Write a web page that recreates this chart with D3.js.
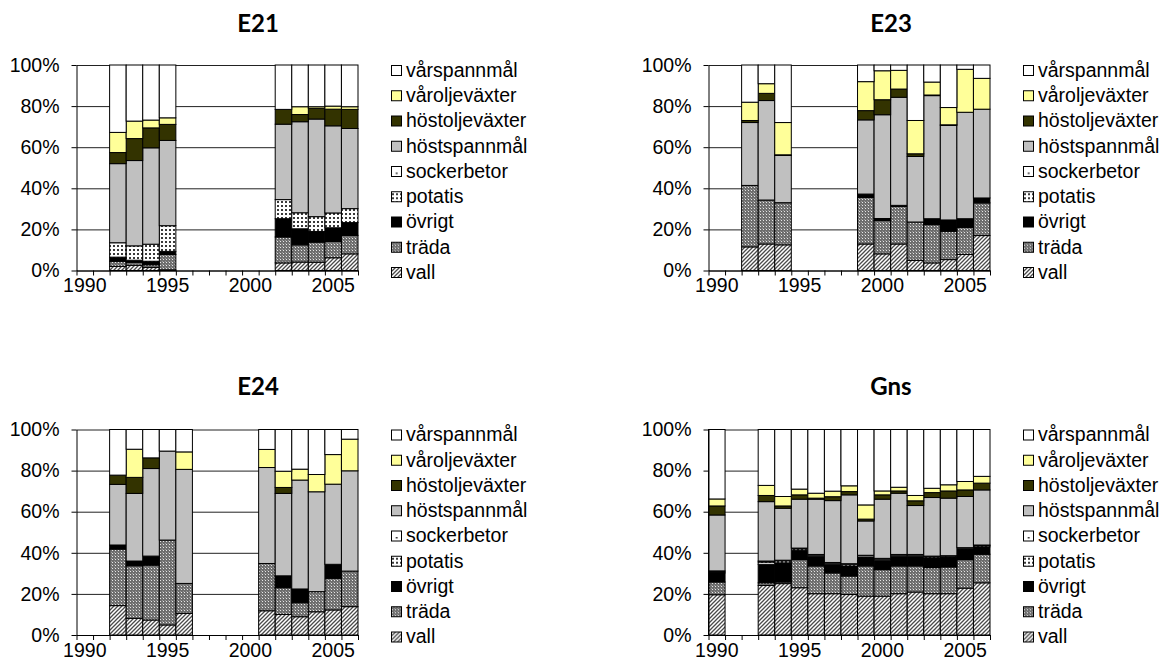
<!DOCTYPE html>
<html>
<head>
<meta charset="utf-8">
<script src="https://cdn.jsdelivr.net/npm/d3@7"></script>
<style>
  body { margin: 0; background: #fff; }
  svg text { font-family: "Liberation Sans", Arial, sans-serif; fill: #000; }
  .title { font-family: Lato, "DejaVu Sans", sans-serif; font-weight: 700; }
</style>
</head>
<body>
<svg width="1175" height="669"></svg>
<script>
// stack order, bottom to top
const crops = ["vall", "träda", "övrigt", "potatis", "sockerbetor", "höstspannmål", "höstoljeväxter", "våroljeväxter", "vårspannmål"];
const allYears = [1990, 1991, 1992, 1993, 1994, 1995, 1996, 1997, 1998, 1999, 2000, 2001, 2002, 2003, 2004, 2005, 2006];
const yearLabels = [1990, 1995, 2000, 2005];
const pctTicks = [0, 20, 40, 60, 80, 100];

// each row: share (%) per crop, same order as crops
const e21Years = [1992, 1993, 1994, 1995, 2002, 2003, 2004, 2005, 2006];
const e21Rows = [
  [2.0, 2.5, 2.0, 7.0, 0, 38.5, 5.4, 9.8, 32.8],
  [2.5, 1.5, 1.0, 7.0, 0, 41.5, 10.7, 8.5, 27.3],
  [1.5, 1.3, 1.7, 8.3, 0, 46.9, 9.7, 3.8, 26.8],
  [0.3, 7.5, 1.5, 12.5, 0, 41.5, 7.8, 3.2, 25.7],
  [3.7, 12.6, 8.9, 9.3, 0, 36.7, 7.2, 0, 21.6],
  [4.1, 8.4, 7.8, 7.8, 0, 44.3, 3.5, 3.8, 20.3],
  [4.0, 9.8, 5.2, 7.2, 0, 47.5, 5.2, 0.8, 20.3],
  [6.2, 7.9, 6.7, 7.2, 0, 42.4, 8.1, 1.5, 20.0],
  [8.1, 9.0, 6.2, 6.8, 0, 39.0, 9.3, 1.3, 20.3]
];

const e23Years = [1992, 1993, 1994, 1999, 2000, 2001, 2002, 2003, 2004, 2005, 2006];
const e23Rows = [
  [11.5, 29.9, 0, 0, 0, 30.6, 1.0, 8.9, 18.1],
  [12.9, 21.4, 0, 0, 0, 48.4, 3.5, 4.7, 9.1],
  [12.5, 20.5, 0, 0, 0, 23.0, 0.3, 15.7, 28.0],
  [12.9, 22.7, 1.6, 0, 0, 36.1, 4.5, 14.1, 8.1],
  [8.1, 16.2, 1.0, 0, 0, 50.5, 7.3, 14.1, 2.8],
  [12.9, 18.3, 0.5, 0, 0, 52.6, 4.0, 9.1, 2.6],
  [4.9, 18.7, 0, 0, 0, 31.9, 1.3, 16.2, 27.0],
  [3.7, 18.6, 2.9, 0, 0, 59.9, 0.3, 6.3, 8.3],
  [5.3, 13.8, 5.5, 0, 0, 46.0, 0.3, 8.4, 20.7],
  [7.8, 13.2, 4.2, 0, 0, 51.8, 0, 20.9, 2.1],
  [17.0, 15.9, 2.4, 0, 0, 43.2, 0, 15.0, 6.5]
];

const e24Years = [1992, 1993, 1994, 1995, 1996, 2001, 2002, 2003, 2004, 2005, 2006];
const e24Rows = [
  [14.3, 27.5, 2.0, 0, 0, 29.5, 4.5, 0, 22.2],
  [8.1, 25.6, 2.3, 0, 0, 32.9, 7.8, 13.7, 9.6],
  [7.3, 26.7, 4.4, 0, 0, 42.6, 5.2, 0, 13.8],
  [4.9, 41.3, 0, 0, 0, 43.3, 0, 0, 10.5],
  [10.5, 14.6, 0, 0, 0, 55.5, 0, 8.5, 10.9],
  [11.8, 23.0, 0, 0, 0, 46.7, 0, 8.8, 9.7],
  [10.0, 13.0, 5.8, 0, 0, 40.1, 2.9, 7.9, 20.3],
  [8.9, 6.8, 6.7, 0, 0, 53.0, 0, 5.3, 19.3],
  [11.3, 9.8, 0, 0, 0, 48.6, 0, 8.4, 21.9],
  [12.2, 15.4, 6.8, 0, 0, 39.0, 0, 14.4, 12.2],
  [13.8, 17.3, 0, 0, 0, 48.8, 0, 15.4, 4.7]
];

const gnsYears = [1990, 1993, 1994, 1995, 1996, 1997, 1998, 1999, 2000, 2001, 2002, 2003, 2004, 2005, 2006];
const gnsRows = [
  [19.6, 6.2, 4.4, 0.5, 0.5, 27.2, 4.4, 3.4, 33.8],
  [24.1, 1.3, 9.0, 1.1, 0.5, 28.9, 3.0, 4.9, 27.2],
  [25.0, 0.8, 9.3, 1.0, 0.3, 25.3, 1.1, 4.6, 32.6],
  [23.0, 13.7, 4.6, 0.7, 0.3, 23.8, 2.1, 2.8, 29.0],
  [20.1, 13.5, 4.7, 0.6, 0.3, 26.9, 0.5, 2.4, 31.0],
  [20.1, 10.1, 4.2, 0.6, 0.3, 30.1, 1.9, 2.7, 30.0],
  [19.7, 9.0, 4.9, 0.8, 0.3, 33.5, 1.6, 2.8, 27.4],
  [18.9, 14.7, 4.1, 0.8, 0.3, 16.7, 0.9, 6.9, 36.7],
  [18.9, 12.9, 4.6, 0.6, 0.3, 28.8, 2.1, 1.9, 29.9],
  [20.1, 13.5, 4.7, 0.6, 0.3, 29.8, 1.1, 1.8, 28.1],
  [20.9, 12.7, 4.7, 0.6, 0.3, 23.8, 2.3, 2.6, 32.1],
  [20.1, 12.7, 4.7, 0.6, 0.3, 28.5, 2.4, 2.1, 28.6],
  [20.1, 13.0, 4.6, 0.6, 0.3, 28.0, 3.5, 3.0, 26.9],
  [22.8, 13.9, 4.9, 0.6, 0.3, 24.9, 3.2, 4.1, 25.3],
  [25.4, 13.9, 3.6, 0.6, 0.3, 26.8, 3.3, 3.3, 22.8]
];

let svg = d3.select("svg");
let defs = svg.append("defs");

// fills / patterns
function pattern(id, size, bg) {
  let p = defs.append("pattern")
    .attr("id", id)
    .attr("patternUnits", "userSpaceOnUse")
    .attr("width", size).attr("height", size);
  p.append("rect").attr("width", size).attr("height", size).attr("fill", bg);
  return p;
}
let pv = pattern("p-vall", 4, "#fff");
pv.append("path")
  .attr("d", "M-1,1 l2,-2 M0,4 l4,-4 M3,5 l2,-2")
  .attr("stroke", "#4a4a4a").attr("stroke-width", 1.3);

let pt = pattern("p-trada", 3, "#6e6e6e");
pt.append("rect").attr("x", 1).attr("y", 1).attr("width", 1).attr("height", 1).attr("fill", "#e6e6e6");
pt.append("rect").attr("x", 0).attr("y", 0).attr("width", 1).attr("height", 1).attr("fill", "#9a9a9a");

let pp = pattern("p-potatis", 4, "#fff");
pp.append("rect").attr("x", 1).attr("y", 1).attr("width", 2).attr("height", 2).attr("fill", "#3a3a3a");

let ps = pattern("p-socker", 10, "#fff");
ps.append("rect").attr("x", 5).attr("y", 6).attr("width", 1.5).attr("height", 1.5).attr("fill", "#000");

// legend box for sockerbetor: one dot, tied to the box itself
let psk = defs.append("pattern")
  .attr("id", "p-socker-key")
  .attr("patternUnits", "objectBoundingBox")
  .attr("width", 1).attr("height", 1);
psk.append("rect").attr("width", 10).attr("height", 10).attr("fill", "#fff");
psk.append("rect").attr("x", 4.5).attr("y", 6).attr("width", 1.5).attr("height", 1.5).attr("fill", "#000");

let fills = {
  "vall": "url(#p-vall)",
  "träda": "url(#p-trada)",
  "övrigt": "#000",
  "potatis": "url(#p-potatis)",
  "sockerbetor": "url(#p-socker)",
  "höstspannmål": "#c0c0c0",
  "höstoljeväxter": "#333300",
  "våroljeväxter": "#ffff99",
  "vårspannmål": "#fff"
};
let keyFills = Object.assign({}, fills, { "sockerbetor": "url(#p-socker-key)" });

let plotW = 281.5, plotH = 205.5;
let panels = [
  { name: "E21", years: e21Years, rows: e21Rows, left: 76.5, top: 65, titleX: 258, titleY: 32 },
  { name: "E23", years: e23Years, rows: e23Rows, left: 708.5, top: 65, titleX: 891, titleY: 32 },
  { name: "E24", years: e24Years, rows: e24Rows, left: 76.5, top: 429.5, titleX: 258, titleY: 395 },
  { name: "Gns", years: gnsYears, rows: gnsRows, left: 708.5, top: 429.5, titleX: 891, titleY: 395 }
];

panels.forEach(panel => {
  let left = panel.left, top = panel.top;
  let bottom = top + plotH, right = left + plotW;

  let x = d3.scaleBand().domain(allYears).range([left, right]).padding(0);
  let xl = d3.scaleLinear().domain([allYears[0], allYears[allYears.length - 1] + 1]).range([left, right]);
  let y = d3.scaleLinear().domain([0, 100]).range([bottom, top]);

  svg.append("text")
    .attr("class", "title")
    .attr("x", panel.titleX)
    .attr("y", panel.titleY)
    .attr("text-anchor", "middle")
    .attr("font-size", 24)
    .text(panel.name);

  // gridlines (hidden behind the bars)
  let grid = svg.append("g")
    .attr("transform", `translate(${left},0)`)
    .call(d3.axisLeft(y).tickValues(pctTicks).tickSize(-plotW).tickFormat(""));
  grid.select(".domain").remove();
  grid.selectAll("line").attr("stroke", "#222");

  let table = panel.rows.map((r, i) => {
    let o = { year: panel.years[i] };
    crops.forEach((c, j) => o[c] = r[j]);
    return o;
  });
  let series = d3.stack().keys(crops)(table);

  svg.append("g")
    .selectAll("g")
    .data(series)
    .enter().append("g")
      .attr("fill", d => fills[d.key])
    .selectAll("rect")
    .data(d => d.filter(s => s[1] - s[0] > 0))
    .enter().append("rect")
      .attr("x", d => x(d.data.year))
      .attr("width", x.bandwidth())
      .attr("y", d => y(d[1]))
      .attr("height", d => y(d[0]) - y(d[1]))
      .attr("stroke", "#000")
      .attr("stroke-width", 1);

  // y axis
  let ya = svg.append("g")
    .attr("transform", `translate(${left},0)`)
    .call(d3.axisLeft(y).tickValues(pctTicks).tickSize(5).tickSizeOuter(0).tickPadding(12)
      .tickFormat(d => d + "%"));
  ya.attr("font-size", 19.5).attr("font-family", null);
  ya.selectAll("line, path").attr("stroke", "#000");

  // x axis: ticks on category boundaries, labels at category centres
  let xt = svg.append("g")
    .attr("transform", `translate(0,${bottom})`)
    .call(d3.axisBottom(xl).tickValues(allYears.concat([allYears[allYears.length - 1] + 1]))
      .tickSize(5).tickSizeOuter(0).tickFormat(""));
  xt.selectAll("line, path").attr("stroke", "#000");

  let xa = svg.append("g")
    .attr("transform", `translate(0,${bottom})`)
    .call(d3.axisBottom(x).tickValues(yearLabels).tickSize(0).tickPadding(8));
  xa.select(".domain").remove();
  xa.attr("font-size", 19.5).attr("font-family", null);

  // legend
  let lg = svg.append("g")
    .attr("transform", `translate(${right + 33},${top + 5})`);
  let items = lg.selectAll("g")
    .data(crops.slice().reverse())
    .enter().append("g")
      .attr("transform", (d, i) => `translate(0,${i * 25.25})`);
  items.append("rect")
    .attr("x", 0.5).attr("y", -4.5)
    .attr("width", 10).attr("height", 10)
    .attr("fill", d => keyFills[d])
    .attr("stroke", "#000");
  items.append("text")
    .attr("x", 15)
    .attr("dy", "0.35em")
    .attr("font-size", 19.5)
    .text(d => d);
});
</script>
</body>
</html>
